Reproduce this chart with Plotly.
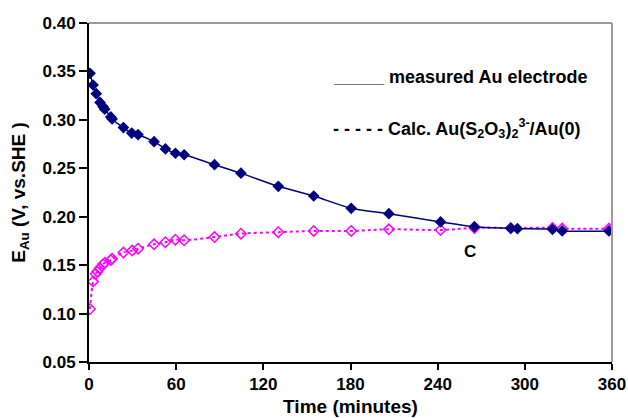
import plotly.graph_objects as go

t_meas = [0.7, 2.8, 5.0, 7.6, 9.7, 10.8, 15.0, 15.9, 23.7, 29.4, 33.8, 44.8, 52.6, 59.5, 65.5,
          86.4, 104.6, 130.3, 154.7, 180.5, 206.4, 242.0, 265.3, 290.3, 294.9, 319.0, 325.7, 357.9]
e_meas = [0.348, 0.336, 0.327, 0.318, 0.3136, 0.311, 0.303, 0.301, 0.292, 0.2864, 0.2847, 0.2775,
          0.270, 0.2655, 0.264, 0.2537, 0.245, 0.2314, 0.2214, 0.2087, 0.2031, 0.1946, 0.1897,
          0.188, 0.1876, 0.187, 0.1853, 0.1853]

t_calc = [0.7, 2.8, 4.6, 5.7, 7.4, 9.7, 11.0, 15.0, 15.9, 23.7, 29.7, 33.8, 44.8, 52.6, 59.5, 65.5,
          86.4, 104.6, 130.3, 154.7, 180.5, 206.4, 242.0, 265.3, 290.3, 319.0, 325.7, 357.9]
e_calc = [0.1047, 0.133, 0.1409, 0.1433, 0.1467, 0.151, 0.1525, 0.1553, 0.1567, 0.163, 0.165, 0.167,
          0.1715, 0.1736, 0.1763, 0.1757, 0.179, 0.1825, 0.184, 0.1853, 0.1853, 0.187, 0.1863,
          0.1884, 0.1884, 0.1884, 0.1877, 0.1877]

x_ticks = [0, 60, 120, 180, 240, 300, 360]
y_ticks = [0.05, 0.10, 0.15, 0.20, 0.25, 0.30, 0.35, 0.40]

FONT = "Liberation Sans, Arial, sans-serif"

fig = go.Figure()
fig.add_trace(go.Scatter(
    x=t_calc, y=e_calc, mode="lines+markers",
    line=dict(color="#FF00FF", width=2, dash="dot", shape="spline", smoothing=1.0),
    marker=dict(symbol="diamond-open", size=8, color="#FF00FF", line=dict(width=1.5, color="#FF00FF")),
    showlegend=False))
fig.add_trace(go.Scatter(
    x=t_meas, y=e_meas, mode="lines+markers",
    line=dict(color="#000080", width=1.5, shape="spline", smoothing=0.8),
    marker=dict(symbol="diamond", size=9, color="#000080"),
    showlegend=False))

fig.update_layout(
    width=628, height=418,
    margin=dict(l=89, r=16, t=23, b=56),
    paper_bgcolor="white", plot_bgcolor="white",
    font=dict(family=FONT, size=14, color="black"),
    xaxis=dict(range=[0, 360], tickvals=x_ticks, ticktext=[str(v) for v in x_ticks],
               automargin=False,
               showgrid=False, zeroline=False, showline=True, linecolor="black", linewidth=2,
               ticks="outside", ticklen=6, tickwidth=2, tickcolor="black",
               tickfont=dict(family=FONT, size=17, color="black", weight="bold"),
               title=dict(text="<b>Time (minutes)</b>", font=dict(family=FONT, size=19), standoff=6)),
    yaxis=dict(range=[0.05, 0.40], tickvals=y_ticks, ticktext=["%.2f" % v for v in y_ticks],
               automargin=False,
               showgrid=False, zeroline=False, showline=True, linecolor="black", linewidth=2,
               ticks="outside", ticklen=8, tickwidth=2, tickcolor="black",
               tickfont=dict(family=FONT, size=17, color="black", weight="bold"),
               title=dict(text="<b>E<sub>Au</sub> (V, vs.SHE )</b>", font=dict(family=FONT, size=19), standoff=12)),
    shapes=[
        dict(type="line", xref="paper", yref="paper", x0=0, x1=1, y0=1, y1=1,
             line=dict(color="#999999", width=2)),
        dict(type="line", xref="paper", yref="paper", x0=1, x1=1, y0=0, y1=1,
             line=dict(color="#999999", width=2)),
    ],
    annotations=[
        dict(x=0.4636, y=0.841, xref="paper", yref="paper", xanchor="left", yanchor="middle",
             text="<b>_____ measured Au electrode</b>", showarrow=False,
             font=dict(family=FONT, size=18, color="black")),
        dict(x=0.4636, y=0.69, xref="paper", yref="paper", xanchor="left", yanchor="middle",
             text="<b>- - - - - Calc. Au(S<sub>2</sub>O<sub>3</sub>)<sub>2</sub><sup>3-</sup>/Au(0)</b>",
             showarrow=False, font=dict(family=FONT, size=18, color="black")),
        dict(x=262, y=0.1636, xref="x", yref="y", text="<b>C</b>", showarrow=False,
             font=dict(family=FONT, size=17, color="black")),
    ],
)

fig.write_html("out.html")
